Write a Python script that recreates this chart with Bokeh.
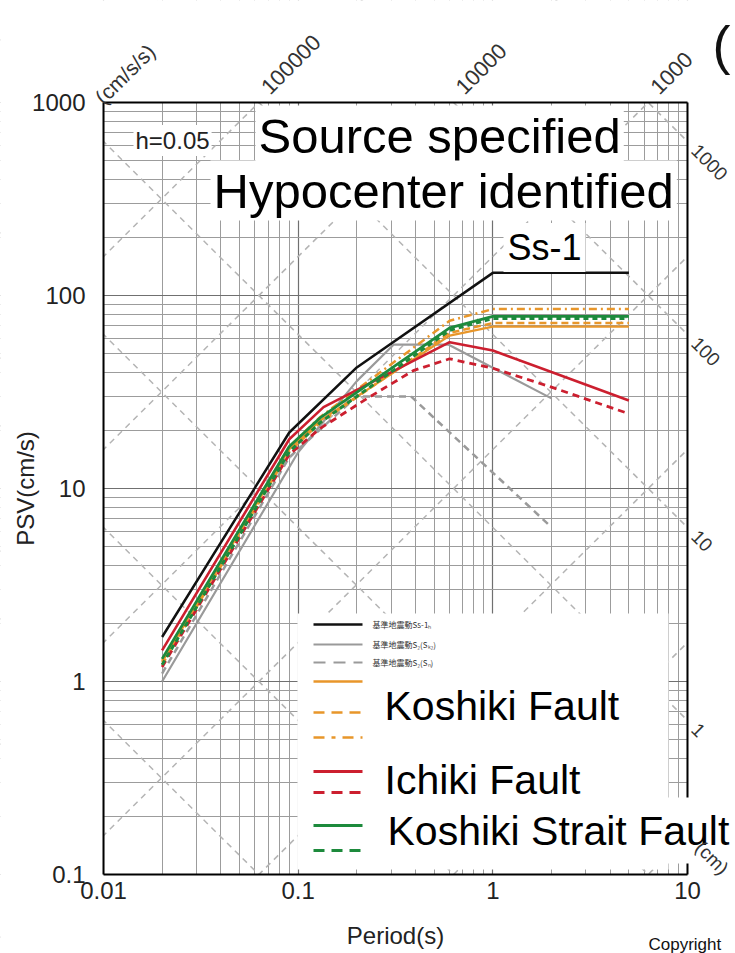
import numpy as np
from bokeh.plotting import figure
from bokeh.models import Range1d, Label, LogAxis, FixedTicker, CustomJSTickFormatter
from bokeh.embed import file_html
from bokeh.resources import INLINE

# ---------------- data ----------------
period_ss1 = [0.02, 0.09, 0.2, 1.0, 5.0]
psv_ss1 = [1.70, 19.5, 42.4, 131.0, 131.0]

period_s2k2 = [0.02, 0.1, 0.2, 0.31, 0.59, 2.0]
psv_s2k2 = [1.0, 15.4, 36.0, 55.7, 55.7, 29.3]

period_s2n = [0.02, 0.09, 0.2, 0.38, 2.0]
psv_s2n = [1.1, 14.5, 30.0, 30.0, 6.3]

period_kosh = [0.02, 0.09, 0.13, 0.6, 1.0, 5.0]
psv_kosh_solid = [1.26, 16.0, 22.5, 62.0, 69.0, 69.0]
psv_kosh_dash = [1.22, 15.5, 22.0, 64.0, 72.0, 72.0]
psv_kosh_dashdot = [1.28, 16.5, 23.5, 74.0, 85.0, 85.0]

period_ichiki = [0.02, 0.09, 0.135, 0.6, 1.0, 2.0, 5.0]
psv_ichiki_solid = [1.45, 18.0, 26.4, 57.3, 51.9, 40.1, 28.6]
period_ichiki_d = [0.02, 0.09, 0.13, 0.23, 0.39, 0.6, 1.0, 2.0, 5.0]
psv_ichiki_dash = [1.19, 15.0, 20.5, 29.6, 40.8, 47.0, 42.0, 33.5, 24.4]

period_strait = [0.02, 0.09, 0.13, 0.6, 1.0, 5.0]
psv_strait_solid = [1.31, 16.5, 23.3, 68.0, 78.0, 78.0]
psv_strait_dash = [1.22, 15.5, 22.0, 66.0, 76.0, 76.0]

x_ticks = [0.01, 0.1, 1, 10]
y_ticks = [0.1, 1, 10, 100, 1000]
acc_levels = [0.1, 1, 10, 100, 1000, 10000, 100000]      # cm/s/s
acc_labels = [100000, 10000, 1000]
disp_levels = [0.001, 0.01, 0.1, 1, 10, 100, 1000]       # cm
disp_labels = [1000, 100, 10, 1]

legend_small = ["基準地震動Ss-1ₕ", "基準地震動S₂(Sₖ₂)", "基準地震動S₂(Sₙ)"]

# ---------------- layout helpers (page px -> data) ----------------
FONT = "Liberation Sans"
W, H = 735, 953
FL, FR, FT, FB = 103, 687, 102, 874     # plot frame of the chart, page px
X0, X1, Y0, Y1 = 0.01, 10.0, 0.1, 1000.0


def dx(px):
    return 10 ** (np.log10(X0) + np.log10(X1 / X0) * (px - FL) / (FR - FL))


def dy(py):
    return 10 ** (np.log10(Y1) - np.log10(Y1 / Y0) * (py - FT) / (FB - FT))


BLACK = "#111111"
GRAY = "#9a9a9a"
ORANGE = "#e8962a"
RED = "#cc1f2f"
GREEN = "#1d8a3c"

xs, xe = dx(0), dx(W)
ys, ye = dy(H), dy(0)

p = figure(width=W, height=H, x_axis_type="log", y_axis_type="log",
           x_range=Range1d(xs, xe), y_range=Range1d(ys, ye),
           output_backend="svg", toolbar_location=None,
           min_border=0, min_border_left=0, min_border_right=0,
           min_border_top=0, min_border_bottom=0)
p.outline_line_color = None
p.background_fill_color = "white"
p.border_fill_color = "white"

x_minor = [m * 10.0 ** k for k in range(-2, 1) for m in range(2, 10)]
y_minor = [m * 10.0 ** k for k in range(-1, 3) for m in range(2, 10)]
xt = FixedTicker(ticks=x_ticks, minor_ticks=x_minor)
yt = FixedTicker(ticks=y_ticks, minor_ticks=y_minor)
p.xaxis.ticker = xt
p.yaxis.ticker = yt
p.xgrid.ticker = xt
p.ygrid.ticker = yt
fmt = CustomJSTickFormatter(code="return String(Number(tick.toPrecision(6)))")
for ax in (p.xaxis[0], p.yaxis[0]):
    ax.formatter = fmt
    ax.axis_line_width = 2
    ax.axis_line_color = "black"
    ax.major_tick_line_color = None
    ax.minor_tick_line_color = None
    ax.major_label_text_font = FONT
    ax.major_label_text_font_size = "24px"
    ax.major_label_text_color = "#222222"
p.xaxis.fixed_location = Y0
p.xaxis.bounds = (X0, X1)
p.yaxis.fixed_location = X0
p.yaxis.bounds = (Y0, Y1)
p.xaxis.major_label_standoff = 1
p.yaxis.major_label_standoff = 12

for g in (p.xgrid[0], p.ygrid[0]):
    g.grid_line_color = "#707070"
    g.grid_line_width = 1.2
    g.minor_grid_line_color = "#9c9c9c"
    g.minor_grid_line_width = 1

# tripartite diagonals (constant acceleration / displacement)
T = np.array([xs, xe])
for A in acc_levels:
    p.line(T, A * T / (2 * np.pi), line_color="#b4b4b4", line_width=1.5, line_dash="6 5")
for D in disp_levels:
    p.line(T, 2 * np.pi * D / T, line_color="#b4b4b4", line_width=1.5, line_dash="6 5")

# spectra
p.line(period_s2n, psv_s2n, line_color=GRAY, line_width=2.5, line_dash="7 5")
p.line(period_s2k2, psv_s2k2, line_color=GRAY, line_width=2.2)
p.line(period_ss1, psv_ss1, line_color=BLACK, line_width=2.5)
p.line(period_kosh, psv_kosh_solid, line_color=ORANGE, line_width=2.2)
p.line(period_kosh, psv_kosh_dash, line_color=ORANGE, line_width=2.5, line_dash="7 4")
p.line(period_kosh, psv_kosh_dashdot, line_color=ORANGE, line_width=2.5, line_dash="8 4 2 4")
p.line(period_ichiki, psv_ichiki_solid, line_color=RED, line_width=2.6)
p.line(period_ichiki_d, psv_ichiki_dash, line_color=RED, line_width=2.8, line_dash="7 5")
p.line(period_strait, psv_strait_solid, line_color=GREEN, line_width=2.8)
p.line(period_strait, psv_strait_dash, line_color=GREEN, line_width=3, line_dash="5 4")

# white margins outside the chart frame (overlapping so no grid line leaks)
p.quad(left=[xs, X1, xs, xs], right=[X0, xe, xe, xe],
       bottom=[ys, ys, Y1, ys], top=[ye, ye, ye, Y0],
       fill_color="white", line_color=None)

# frame sides (top / right)
for loc, fixed, bnds in (("right", X1, (Y0, Y1)), ("above", Y1, (X0, X1))):
    a = LogAxis(ticker=FixedTicker(ticks=[]), axis_line_width=2, axis_line_color="black",
                major_tick_line_color=None, minor_tick_line_color=None,
                major_label_text_font_size="0px", fixed_location=fixed, bounds=bnds)
    p.add_layout(a, loc)

# legend background
p.quad(left=dx(297), right=dx(668), top=dy(613), bottom=dy(869),
       fill_color="white", line_color=None)

leg_rows = [
    (624, BLACK, None, 2.5),
    (644, GRAY, None, 2.2),
    (662, GRAY, "12 8", 2.2),
    (681, ORANGE, None, 2.5),
    (712, ORANGE, "11 7", 2.5),
    (737, ORANGE, "11 7 4 7", 2.5),
    (771, RED, None, 2.8),
    (792, RED, "11 7", 2.8),
    (825, GREEN, None, 2.8),
    (850, GREEN, "11 7", 2.8),
]
for ry, col, dash, lw in leg_rows:
    kw = dict(line_color=col, line_width=lw)
    if dash:
        kw["line_dash"] = dash
    p.line([dx(313), dx(362)], [dy(ry), dy(ry)], **kw)


def lab(text, px, py, size, align="left", baseline="middle", angle=0.0,
        bg=None, pad=0, font=FONT, color="black"):
    kw = dict(x=dx(px), y=dy(py), text=text, text_font=font,
              text_font_size=f"{size}px", text_align=align, text_baseline=baseline,
              angle=angle, text_color=color)
    if bg:
        kw.update(background_fill_color=bg, padding=pad)
    p.add_layout(Label(**kw))


for txt, ry in zip(legend_small, [624, 644, 662]):
    lab(txt, 372, ry, 8, font="Noto Sans CJK JP", color="#333333")

# big overlay texts
lab("h=0.05", 133, 140, 24, bg="white", pad=2, color="#222222")
lab("Source specified", 255, 135, 49, bg="white", pad=3)
lab("Hypocenter identified", 210, 190, 49, bg="white", pad=3)
lab("Ss-1", 503, 247, 36, bg="white", pad=4)
lab("Koshiki Fault", 377, 705, 41, bg="white", pad=7)
lab("Ichiki Fault", 377, 779, 41, bg="white", pad=7)
lab("Koshiki Strait Fault", 377, 830, 41, bg="white", pad=10)

# axis titles
lab("PSV(cm/s)", 25, 488, 24, align="center", angle=np.pi / 2, color="#222222")
lab("Period(s)", 395, 935, 24, align="center", color="#222222")

# diagonal scale labels
for A in acc_labels:
    t_top = 2 * np.pi * Y1 / A
    px = FL + (FR - FL) * np.log10(t_top / X0) / np.log10(X1 / X0)
    lab(str(A), px + 6, 90, 22, angle=np.pi / 4, color="#333333")
lab("(cm/s/s)", 98, 100, 21, angle=np.pi / 4, color="#333333")
for D in disp_labels:
    v_right = 2 * np.pi * D / X1
    py = FT + (FB - FT) * np.log10(Y1 / v_right) / np.log10(Y1 / Y0)
    lab(str(D), 694, py + 6, 19, angle=-np.pi / 4, color="#333333")
lab("(cm)", 698, 844, 19, angle=-np.pi / 4, color="#333333")

# texts at the picture edges
lab("(", 712, 44, 54, color="#111111")
lab("Copyright", 648, 944, 17, color="#111111")

open("out.html", "w").write(file_html(p, INLINE))
